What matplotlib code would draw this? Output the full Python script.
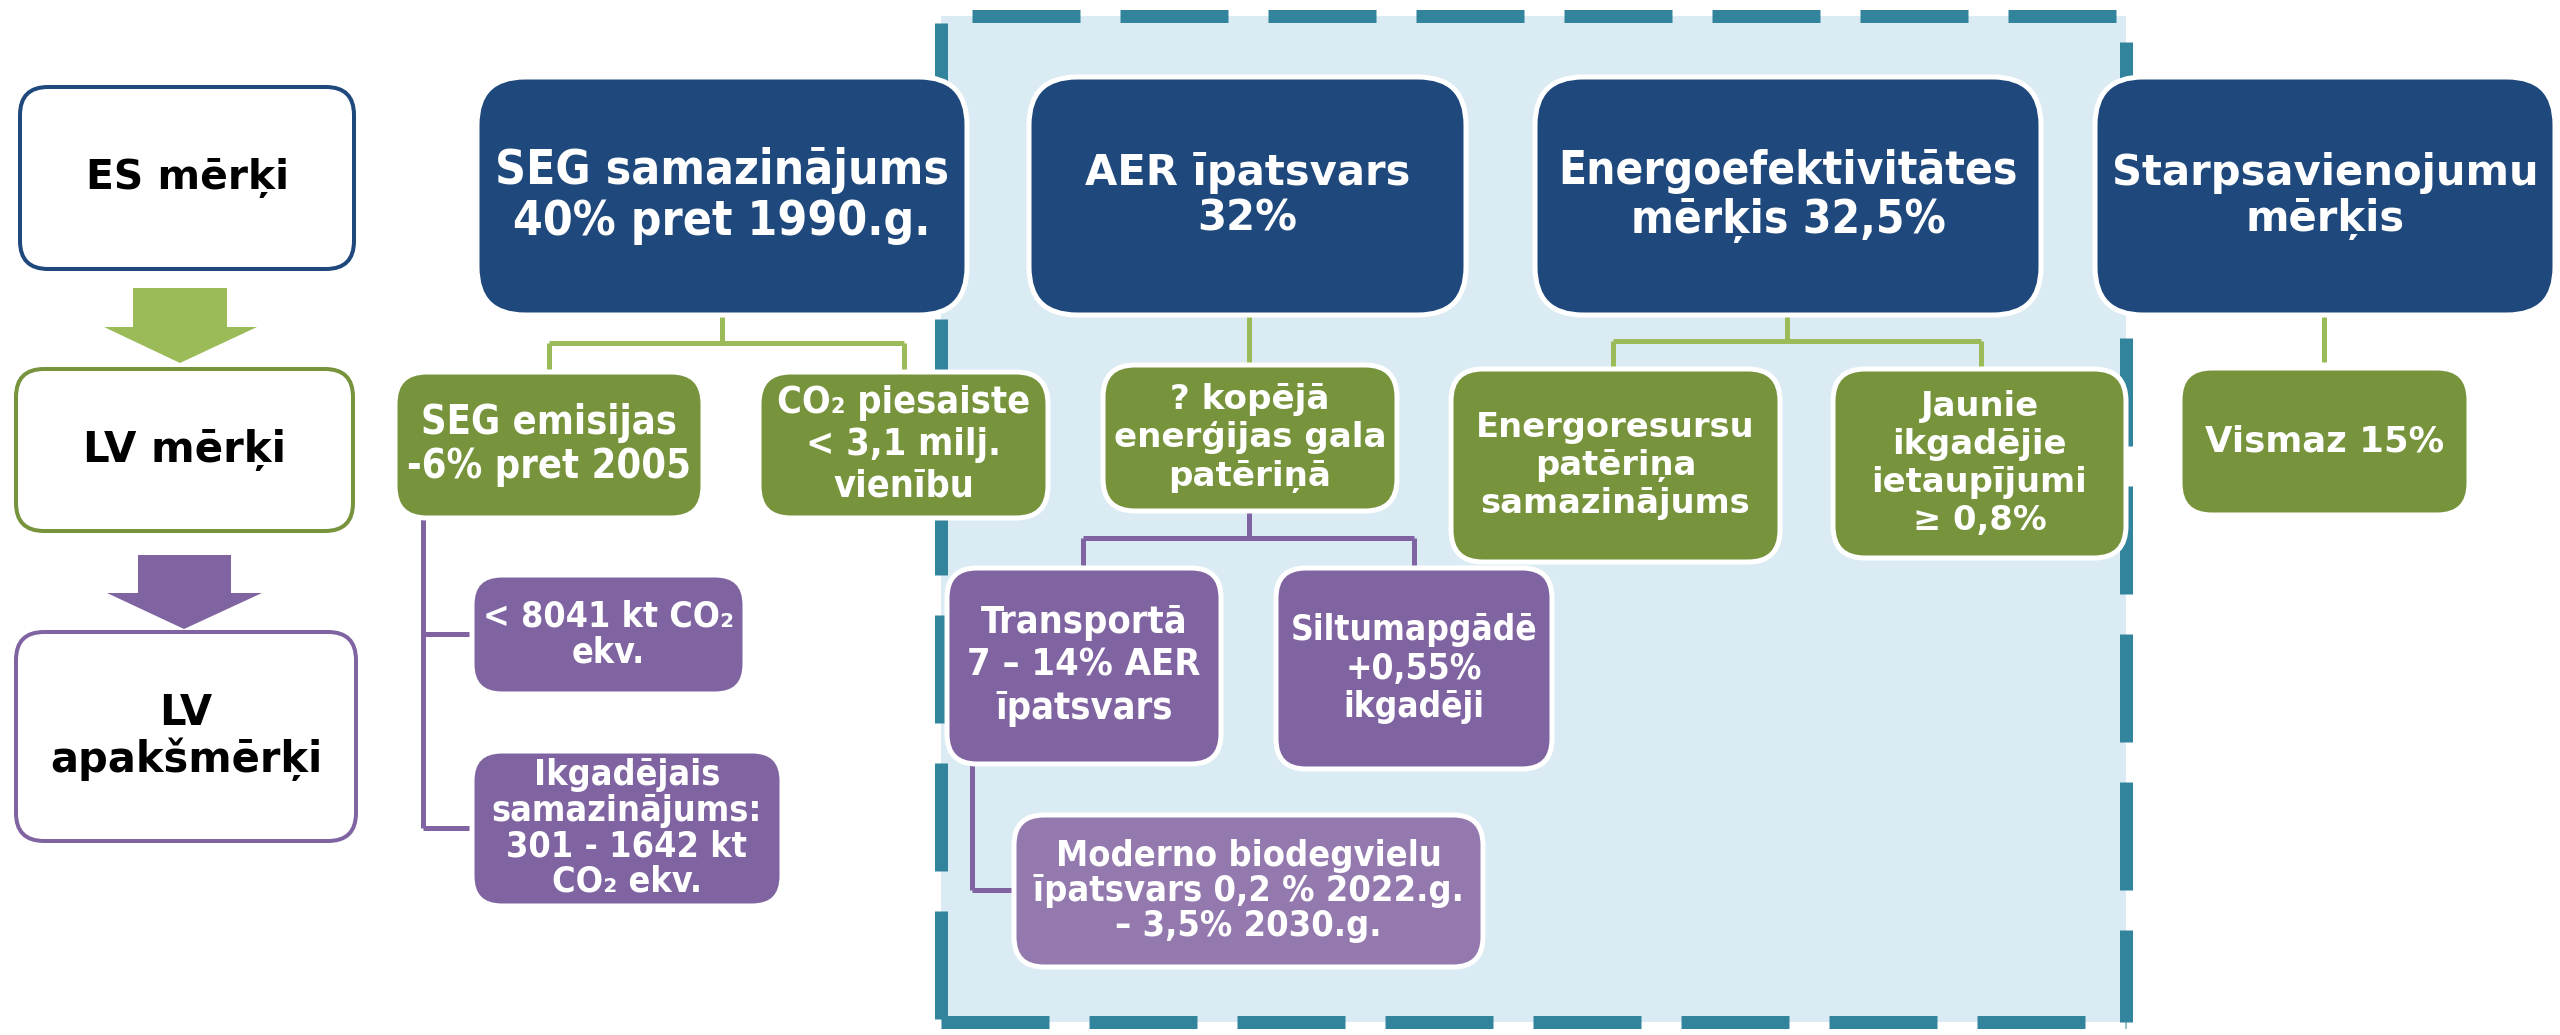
import matplotlib
matplotlib.use("Agg")
import matplotlib.pyplot as plt
from matplotlib.patches import FancyBboxPatch, Polygon, Rectangle
from matplotlib import font_manager

# ---- texts ----
level_labels = ["ES mērķi", "LV mērķi", "LV\napakšmērķi"]
eu_targets = ["SEG samazinājums\n40% pret 1990.g.",
              "AER īpatsvars\n32%",
              "Energoefektivitātes\nmērķis 32,5%",
              "Starpsavienojumu\nmērķis"]
lv_targets = ["SEG emisijas\n-6% pret 2005",
              "CO₂ piesaiste\n< 3,1 milj.\nvienību",
              "? kopējā\nenerģijas gala\npatēriņā",
              "Energoresursu\npatēriņa\nsamazinājums",
              "Jaunie\nikgadējie\nietaupījumi\n≥ 0,8%",
              "Vismaz 15%"]
lv_subtargets = ["< 8041 kt CO₂\nekv.",
                 "Ikgadējais\nsamazinājums:\n301 - 1642 kt\nCO₂ ekv.",
                 "Transportā\n7 – 14% AER\nīpatsvars",
                 "Siltumapgādē\n+0,55%\nikgadēji",
                 "Moderno biodegvielu\nīpatsvars 0,2 % 2022.g.\n– 3,5% 2030.g."]

# ---- layout (pixels: x0, y0, x1, y1) ----
level_boxes = [(20, 87, 354, 269), (16, 369, 353, 531), (16, 632, 356, 841)]
level_colors = ["#1F497D", "#77933C", "#8064A2"]
level_tw = [203, 203, 273]

eu_boxes = [(477, 77, 967, 315), (1029, 77, 1466, 315),
            (1535, 77, 2041, 315), (2095, 77, 2555, 315)]
eu_tw = [454, 325, 460, 427]
eu_narrow = [True, False, True, False]

lv_boxes = [(395, 372, 703, 518), (759, 372, 1048, 518), (1103, 365, 1397, 511),
            (1451, 369, 1780, 562), (1833, 369, 2126, 558), (2180, 368, 2469, 515)]
lv_tw = [284, 253, 273, 278, 216, 239]
lv_narrow = [True, True, False, False, False, False]
lv_ls = [1.1, 1.2, 1.2, 1.2, 1.2, 1.2]

sub_boxes = [(472, 575, 745, 694), (472, 751, 782, 906), (947, 568, 1221, 764),
             (1276, 568, 1552, 769), (1014, 815, 1483, 967)]
sub_tw = [251, 271, 233, 247, 430]
sub_ls = [1.1, 1.05, 1.25, 1.15, 1.05]
sub_colors = ["#8064A2", "#8064A2", "#8064A2", "#8064A2", "#9479AF"]

DARK_BLUE = "#1F497D"
GREEN = "#77933C"
LIGHT_GREEN = "#9BBB59"
PURPLE = "#8064A2"
TEAL = "#31849B"
PALE = "#DAEBF3"

names = {(f.name, f.stretch) for f in font_manager.fontManager.ttflist}
fams = {f.name for f in font_manager.fontManager.ttflist}
if ("DejaVu Sans", "condensed") in names:
    NARROW = dict(family="DejaVu Sans", fontstretch="condensed")
elif "Liberation Sans Narrow" in fams:
    NARROW = dict(family="Liberation Sans Narrow")
else:
    NARROW = dict(family="Roboto")
WIDE = dict(family="DejaVu Sans")

plt.rcParams["lines.scale_dashes"] = False

fig = plt.figure(figsize=(25.6, 10.35), dpi=100)
ax = fig.add_axes([0, 0, 1, 1])
ax.set_xlim(0, 2560)
ax.set_ylim(1035, 0)
ax.axis("off")
renderer = fig.canvas.get_renderer()
PX = 0.72  # points per pixel


def box(b, fc, ec="white", lw=5, r=40, z=3):
    x0, y0, x1, y1 = b
    p = FancyBboxPatch((x0, y0), x1 - x0, y1 - y0,
                       boxstyle=f"round,pad=0,rounding_size={r}",
                       fc=fc, ec=ec, lw=lw * PX, zorder=z)
    ax.add_patch(p)


def label(b, s, tw, font, color="white", ls=1.2):
    x0, y0, x1, y1 = b
    t = ax.text((x0 + x1) / 2, (y0 + y1) / 2, s, ha="center", va="center",
                multialignment="center", color=color, fontsize=20,
                fontweight="bold", linespacing=ls, zorder=6, **font)
    w = t.get_window_extent(renderer).width
    t.set_fontsize(20 * tw / w)


def line(xs, ys, c):
    ax.plot(xs, ys, color=c, lw=5 * PX, solid_capstyle="butt",
            solid_joinstyle="miter", zorder=2)


# dashed light-blue region
rx0, ry0, rx1, ry1 = 941, 16, 2126, 1022
ax.add_patch(Rectangle((rx0, ry0), rx1 - rx0, ry1 - ry0, fc=PALE, ec="none", zorder=0))
dash = (108 * PX, 40 * PX)
for xs, ys, off in [((rx0, rx1), (ry0, ry0), 117), ((rx0, rx0), (ry0, ry1), 141),
                    ((rx0, rx1), (ry1, ry1), 0), ((rx1, rx1), (ry0, ry1), 122)]:
    ax.plot(xs, ys, color=TEAL, lw=13 * PX, linestyle=(off * PX, dash),
            solid_capstyle="butt", dash_capstyle="butt", zorder=1)

# left column
for b, c, s, tw in zip(level_boxes, level_colors, level_labels, level_tw):
    box(b, "white", ec=c, lw=4, r=28)
    label(b, s, tw, WIDE, color="black", ls=1.1)

ax.add_patch(Polygon([(133, 288), (227, 288), (227, 327), (257, 327), (180, 363),
                      (104, 327), (133, 327)], closed=True, fc=LIGHT_GREEN, ec="none"))
ax.add_patch(Polygon([(138, 555), (231, 555), (231, 593), (262, 593), (184, 629),
                      (107, 593), (138, 593)], closed=True, fc=PURPLE, ec="none"))

# connectors
line([722, 722], [315, 343], LIGHT_GREEN)
line([549, 904], [343, 343], LIGHT_GREEN)
line([549, 549], [343, 372], LIGHT_GREEN)
line([904, 904], [343, 372], LIGHT_GREEN)
line([1249, 1249], [315, 365], LIGHT_GREEN)
line([1787, 1787], [315, 341], LIGHT_GREEN)
line([1613, 1981], [341, 341], LIGHT_GREEN)
line([1613, 1613], [341, 369], LIGHT_GREEN)
line([1981, 1981], [341, 369], LIGHT_GREEN)
line([2324, 2324], [315, 362], LIGHT_GREEN)

line([423, 423], [518, 828], PURPLE)
line([423, 472], [634, 634], PURPLE)
line([423, 472], [828, 828], PURPLE)
line([1249, 1249], [511, 538], PURPLE)
line([1083, 1414], [538, 538], PURPLE)
line([1083, 1083], [538, 568], PURPLE)
line([1414, 1414], [538, 568], PURPLE)
line([972, 972], [764, 890], PURPLE)
line([972, 1014], [890, 890], PURPLE)

# top EU targets
for b, s, tw, n in zip(eu_boxes, eu_targets, eu_tw, eu_narrow):
    box(b, DARK_BLUE, r=48)
    label(b, s, tw, NARROW if n else WIDE, ls=1.1)

# LV targets
for b, s, tw, n, ls in zip(lv_boxes, lv_targets, lv_tw, lv_narrow, lv_ls):
    box(b, GREEN, r=32)
    label(b, s, tw, NARROW if n else WIDE, ls=ls)

# LV sub-targets
for b, s, tw, c, ls in zip(sub_boxes, lv_subtargets, sub_tw, sub_colors, sub_ls):
    box(b, c, r=30)
    label(b, s, tw, NARROW, ls=ls)

fig.savefig("out.png", dpi=100)
